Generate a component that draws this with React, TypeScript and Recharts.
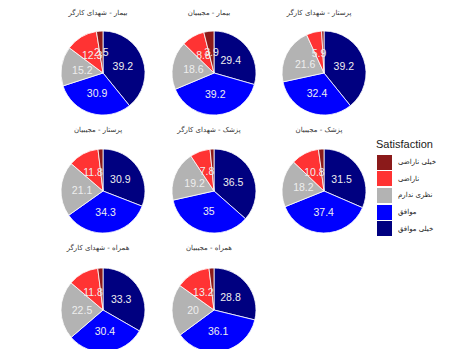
import React from 'react';
import { PieChart, Pie, Cell } from 'recharts';

// response levels, in the order the slices run clockwise from 12 o'clock
const levels = ['خیلی موافق', 'موافق', 'نظری ندارم', 'ناراضی', 'خیلی ناراضی'];
const levelColors = ['#000080', '#0000ff', '#b3b3b3', '#ff3333', '#8b1a1a'];

// legend lists the levels from most negative to most positive
const legendOrder = [4, 3, 2, 1, 0];

// percentages per facet (same order as levels)
const bimarShohada = [39.2, 30.9, 15.2, 12.3, 2.5];
const bimarMojibian = [29.4, 39.2, 18.6, 8.8, 3.9];
const parastarShohada = [39.2, 32.4, 21.6, 5.9, 0.9];
const parastarMojibian = [30.9, 34.3, 21.1, 11.8, 1.9];
const pezeshkShohada = [36.5, 35, 19.2, 7.8, 1.5];
const pezeshkMojibian = [31.5, 37.4, 18.2, 10.8, 2.1];
const hamrahShohada = [33.3, 30.4, 22.5, 11.8, 2.0];
const hamrahMojibian = [28.8, 36.1, 20, 13.2, 1.9];

const facetTitles = [
  'بیمار - شهدای کارگر',
  'بیمار - مجیبیان',
  'پرستار - شهدای کارگر',
  'پرستار - مجیبیان',
  'پزشک - شهدای کارگر',
  'پزشک - مجیبیان',
  'همراه - شهدای کارگر',
  'همراه - مجیبیان',
];
const facetValues = [
  bimarShohada,
  bimarMojibian,
  parastarShohada,
  parastarMojibian,
  pezeshkShohada,
  pezeshkMojibian,
  hamrahShohada,
  hamrahMojibian,
];

// slices thinner than this get no text
const LABEL_MIN = 2.2;

const COL_X = [98, 209, 319];
const ROW_Y = [68, 186, 305];
const TITLE_Y = [13, 130, 248];
const R = 42;
const BOX = 110;

const RAD = Math.PI / 180;

function renderLabel(props: any) {
  const { cx, cy, midAngle, outerRadius, value } = props;
  if (value < LABEL_MIN) return null;
  const r = outerRadius * 0.5;
  const x = cx + r * Math.cos(-midAngle * RAD);
  const y = cy + r * Math.sin(-midAngle * RAD);
  return (
    <text
      x={x}
      y={y}
      fill="#eeeeee"
      fontSize={10.5}
      fontFamily="'Liberation Sans', Arial, sans-serif"
      textAnchor="middle"
      dominantBaseline="central"
    >
      {value}
    </text>
  );
}

function Facet({ index }: { index: number }) {
  const col = index % 3;
  const row = Math.floor(index / 3);
  const cx = COL_X[col];
  const cy = ROW_Y[row];
  const data = levels.map((name, i) => ({ name, value: facetValues[index][i] }));
  return (
    <>
      <div
        style={{
          position: 'absolute',
          left: cx - 60,
          top: TITLE_Y[row] - 6,
          width: 120,
          height: 12,
          lineHeight: '12px',
          textAlign: 'center',
          fontSize: 7,
          color: '#333',
          fontFamily: "'DejaVu Sans', sans-serif",
          direction: 'rtl',
          whiteSpace: 'nowrap',
        }}
      >
        {facetTitles[index]}
      </div>
      <div style={{ position: 'absolute', left: cx - BOX / 2, top: cy - BOX / 2 }}>
        <PieChart width={BOX} height={BOX}>
          <Pie
            data={data}
            dataKey="value"
            nameKey="name"
            cx={BOX / 2}
            cy={BOX / 2}
            outerRadius={R}
            startAngle={90}
            endAngle={-270}
            stroke="#ffffff"
            strokeWidth={0.8}
            label={renderLabel}
            labelLine={false}
            isAnimationActive={false}
          >
            {data.map((d, i) => (
              <Cell key={d.name} fill={levelColors[i]} />
            ))}
          </Pie>
        </PieChart>
      </div>
    </>
  );
}

function SatisfactionLegend() {
  return (
    <div style={{ position: 'absolute', left: 376, top: 136 }}>
      <div
        style={{
          fontFamily: "'Liberation Sans', Arial, sans-serif",
          fontSize: 11,
          color: '#1a1a1a',
          lineHeight: '16px',
          marginBottom: 2,
        }}
      >
        Satisfaction
      </div>
      {legendOrder.map((i) => (
        <div key={levels[i]} style={{ display: 'flex', alignItems: 'center', height: 16.6 }}>
          <div
            style={{
              width: 15,
              height: 15,
              background: levelColors[i],
              border: '0.5px solid #fff',
            }}
          />
          <span
            style={{
              marginLeft: 5,
              fontSize: 7,
              color: '#1a1a1a',
              fontFamily: "'DejaVu Sans', sans-serif",
              whiteSpace: 'nowrap',
            }}
          >
            {levels[i]}
          </span>
        </div>
      ))}
    </div>
  );
}

export default function App() {
  return (
    <div
      style={{
        position: 'absolute',
        left: 0,
        top: 0,
        width: 452,
        height: 349,
        background: '#fff',
        overflow: 'hidden',
      }}
    >
      {facetTitles.map((t, i) => (
        <Facet key={t} index={i} />
      ))}
      <SatisfactionLegend />
    </div>
  );
}
